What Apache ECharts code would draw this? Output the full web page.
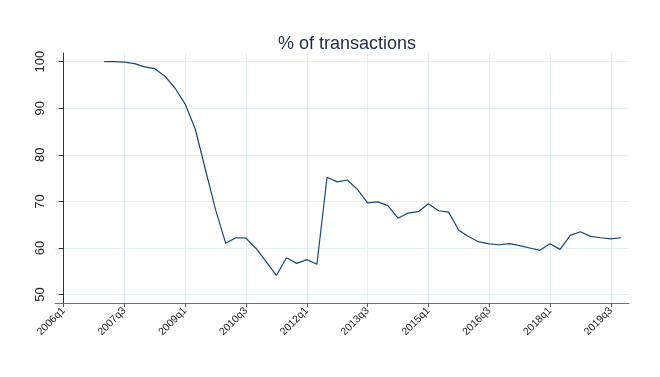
<!DOCTYPE html>
<html>
<head>
<meta charset="utf-8">
<script src="https://cdn.jsdelivr.net/npm/echarts@6/dist/echarts.min.js"></script>
<style>
  html, body { margin: 0; padding: 0; background: #fff; }
  #charts { width: 660px; height: 377px; }
</style>
</head>
<body>
<div id="charts"></div>
<script>
// quarters with data (2007q1 .. 2019q4)
var quarters = [
  '2007q1','2007q2','2007q3','2007q4','2008q1','2008q2','2008q3','2008q4',
  '2009q1','2009q2','2009q3','2009q4','2010q1','2010q2','2010q3','2010q4',
  '2011q1','2011q2','2011q3','2011q4','2012q1','2012q2','2012q3','2012q4',
  '2013q1','2013q2','2013q3','2013q4','2014q1','2014q2','2014q3','2014q4',
  '2015q1','2015q2','2015q3','2015q4','2016q1','2016q2','2016q3','2016q4',
  '2017q1','2017q2','2017q3','2017q4','2018q1','2018q2','2018q3','2018q4',
  '2019q1','2019q2','2019q3','2019q4'
];
// % of transactions
var pctValues = [
  100, 100, 99.9, 99.6, 98.9, 98.5, 96.9, 94.3,
  90.9, 85.5, 76.8, 68.2, 61.0, 62.2, 62.1, 59.9,
  57.0, 54.1, 57.9, 56.7, 57.5, 56.5, 75.2, 74.2,
  74.6, 72.6, 69.7, 69.9, 69.1, 66.4, 67.5, 67.8,
  69.5, 68.0, 67.7, 63.8, 62.4, 61.3, 60.9, 60.7,
  60.95, 60.5, 60.0, 59.5, 60.9, 59.7, 62.7, 63.5,
  62.5, 62.2, 61.95, 62.2
];
// axis labels
var xTickLabels = ['2006q1','2007q3','2009q1','2010q3','2012q1','2013q3','2015q1','2016q3','2018q1','2019q3'];
var yTickValues = [50, 60, 70, 80, 90, 100];

// quarter label -> index counted from 2006q1
function quarterIndex(s) {
  return (parseInt(s.substr(0, 4), 10) - 2006) * 4 + parseInt(s.substr(5), 10) - 1;
}
function indexLabel(i) {
  return (2006 + Math.floor(i / 4)) + 'q' + (i % 4 + 1);
}

var xTicks = xTickLabels.map(quarterIndex);
var lineData = quarters.map(function (q, k) { return [quarterIndex(q), pctValues[k]]; });

var myChart = echarts.init(document.getElementById('charts'));
var option = {
  backgroundColor: '#fff',
  animation: false,
  title: {
    text: '% of transactions',
    left: 342,
    textAlign: 'center',
    top: 30,
    textStyle: { color: '#1c2b4a', fontSize: 18, fontWeight: 'normal', fontFamily: 'Liberation Sans' }
  },
  grid: { left: 55, right: 31, top: 53, bottom: 74 },
  xAxis: {
    type: 'value',
    min: -0.85,
    max: 55.8,
    axisLine: { lineStyle: { color: '#777', width: 1 } },
    axisTick: { show: true, length: 4, customValues: xTicks, lineStyle: { color: '#555' } },
    axisLabel: {
      customValues: xTicks,
      rotate: 45,
      fontSize: 10.5,
      color: '#222',
      fontFamily: 'Liberation Sans',
      margin: 6,
      formatter: function (v) { return indexLabel(Math.round(v)); }
    },
    splitLine: { show: true, lineStyle: { color: '#e6f0f2', width: 1 } }
  },
  yAxis: {
    type: 'value',
    min: 48.19,
    max: 101.87,
    axisLine: { show: true, lineStyle: { color: '#333', width: 1 } },
    axisTick: { show: true, length: 5, customValues: yTickValues, lineStyle: { color: '#333' } },
    axisLabel: {
      customValues: yTickValues,
      rotate: 90,
      fontSize: 13,
      color: '#222',
      fontFamily: 'Liberation Sans',
      margin: 8
    },
    splitLine: { show: true, lineStyle: { color: '#e6f0f2', width: 1 } }
  },
  series: [{
    name: '% of transactions',
    type: 'line',
    data: lineData,
    showSymbol: false,
    lineStyle: { color: '#1a476f', width: 1.2 }
  }]
};
myChart.setOption(option);
</script>
</body>
</html>
